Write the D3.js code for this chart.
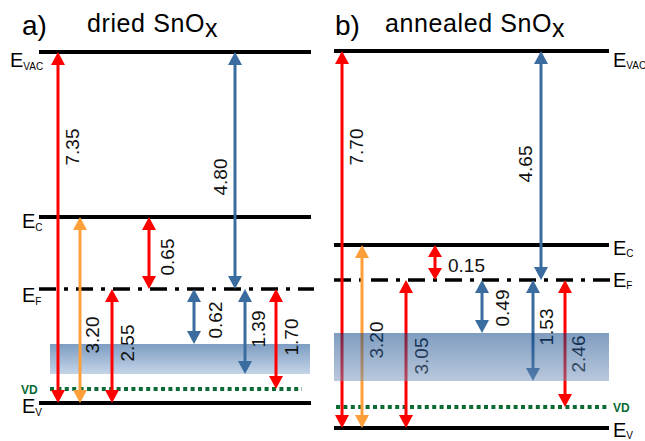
<!DOCTYPE html>
<html>
<head>
<meta charset="utf-8">
<script src="https://cdn.jsdelivr.net/npm/d3@7"></script>
<style>
  body { margin: 0; background: white; }
  text { font-family: "Liberation Sans", Arial, sans-serif; }
</style>
</head>
<body>
<div id="chart"></div>
<script>
// energy levels (eV above valence band), same order in both panels
var levels   = ["EV", "VD", "bandBottom", "bandTop", "EF", "EC", "EVAC"];
var energyA  = [0, 0.85, 1.16, 1.93, 2.55, 3.20, 7.35];
var energyB  = [0, 0.59, 1.52, 2.56, 3.05, 3.20, 7.70];

// arrows: from level -> to level, value label, colour key
var arrowFrom   = ["EV", "EF", "EV", "EF", "EV", "bandTop", "bandBottom", "VD"];
var arrowTo     = ["EVAC", "EVAC", "EC", "EC", "EF", "EF", "EF", "EF"];
var arrowColor  = ["red", "blue", "orange", "red", "red", "blue", "blue", "red"];
var labelsA     = ["7.35", "4.80", "3.20", "0.65", "2.55", "0.62", "1.39", "1.70"];
var labelsB     = ["7.70", "4.65", "3.20", "0.15", "3.05", "0.49", "1.53", "2.46"];

var titles = ["a)", "b)"];
var materials = ["dried SnO", "annealed SnO"];
var levelNames = ["EVAC", "EC", "EF", "EV"];
var levelSubs  = ["VAC", "C", "F", "V"];

var colors = { red: "#ff0000", blue: "#3a6c9f", orange: "#ff9f3a" };

var width = 645, height = 441;

var svg = d3.select("#chart").append("svg")
  .attr("width", width)
  .attr("height", height);

// opaque band (panel a, drawn behind) and translucent band (panel b, drawn on top)
var defs = svg.append("defs");
var grad = defs.append("linearGradient")
  .attr("id", "bandGrad")
  .attr("x1", 0).attr("y1", 0).attr("x2", 0).attr("y2", 1);
grad.append("stop").attr("offset", "0%").attr("stop-color", "#7d9dc2");
grad.append("stop").attr("offset", "100%").attr("stop-color", "#c4d4e7");
var grad2 = defs.append("linearGradient")
  .attr("id", "bandGrad2")
  .attr("x1", 0).attr("y1", 0).attr("x2", 0).attr("y2", 1);
grad2.append("stop").attr("offset", "0%").attr("stop-color", "#003b81");
grad2.append("stop").attr("offset", "100%").attr("stop-color", "#7391b9");

// layout of each panel (schematic, so the y scale is piecewise)
var panels = [
  {
    energy: energyA, labels: labelsA,
    yRange: [403, 389, 374, 344, 289, 217, 52],
    x0: 39, x1: 311, bandX0: 50, bandX1: 310, dotX0: 50, dotX1: 302,
    arrowX: [58, 235, 80, 149, 112, 194, 245, 276],
    labelX: [72, 220, 92, 167, 127, 215, 258, 291],
    labelY: [147, 177, 335, 257, 343, 320, 329, 337],
    horizontal: [],
    bandOnTop: false,
    titleX: 22, matX: 87,
    levelX: [10, 22, 22, 22], levelDy: [15, 11, 13, 10], subDy: 3,
    vdX: 21, vdDy: 5
  },
  {
    energy: energyB, labels: labelsB,
    yRange: [428, 407, 381, 333, 280, 245, 51],
    x0: 334, x1: 609, bandX0: 334, bandX1: 609, dotX0: 336, dotX1: 608,
    arrowX: [342, 541, 362, 435, 406, 482, 533, 565],
    labelX: [356, 525, 376, 448, 421, 502, 546, 578],
    labelY: [147, 164, 340, 265, 356, 308, 327, 354],
    horizontal: [3],
    bandOnTop: true,
    titleX: 335, matX: 385,
    levelX: [613, 613, 613, 613], levelDy: [16, 10, 7, 9], subDy: 2,
    vdX: 613, vdDy: 5
  }
];

function arrowPath(x, yA, yB, head, half) {
  // two heads, one at each end
  var dir = yB > yA ? 1 : -1;
  var tipA = "M" + x + "," + yA + "L" + (x - half) + "," + (yA + dir * head) + "L" + (x + half) + "," + (yA + dir * head) + "Z";
  var tipB = "M" + x + "," + yB + "L" + (x - half) + "," + (yB - dir * head) + "L" + (x + half) + "," + (yB - dir * head) + "Z";
  return tipA + tipB;
}

panels.forEach(function(p, pi) {
  var y = d3.scaleLinear().domain(p.energy).range(p.yRange);
  var E = function(name) { return y(p.energy[levels.indexOf(name)]); };
  var g = svg.append("g");

  // titles
  g.append("text")
    .attr("x", p.titleX).attr("y", 35)
    .style("font-size", "28px")
    .text(titles[pi]);
  var t = g.append("text")
    .attr("x", p.matX).attr("y", 32)
    .style("font-size", "25px")
    .style("letter-spacing", "0.6px")
    .text(materials[pi]);
  t.append("tspan").attr("dy", 5).text("x");

  var band = function() {
    g.append("rect")
      .attr("x", p.bandX0)
      .attr("y", E("bandTop"))
      .attr("width", p.bandX1 - p.bandX0)
      .attr("height", E("bandBottom") - E("bandTop"))
      .attr("fill", p.bandOnTop ? "url(#bandGrad2)" : "url(#bandGrad)")
      .attr("opacity", p.bandOnTop ? 0.5 : 1);
  };
  if (!p.bandOnTop) band();

  // solid levels
  ["EVAC", "EC", "EV"].forEach(function(name) {
    g.append("line")
      .attr("x1", p.x0).attr("x2", p.x1)
      .attr("y1", E(name)).attr("y2", E(name))
      .attr("stroke", "#000").attr("stroke-width", 4);
  });
  // Fermi level dash-dot
  g.append("line")
    .attr("x1", p.x0).attr("x2", p.x1 + 3)
    .attr("y1", E("EF")).attr("y2", E("EF"))
    .attr("stroke", "#000").attr("stroke-width", 3.5)
    .attr("stroke-dasharray", "17,8,4,8");
  // vacancy-defect level dotted
  g.append("line")
    .attr("x1", p.dotX0).attr("x2", p.dotX1)
    .attr("y1", E("VD")).attr("y2", E("VD"))
    .attr("stroke", "#0a6b35").attr("stroke-width", 4)
    .attr("stroke-dasharray", "4,3.4");

  // arrows
  arrowFrom.forEach(function(from, i) {
    var x = p.arrowX[i];
    var yA = E(from), yB = E(arrowTo[i]);
    var c = colors[arrowColor[i]];
    var head = Math.abs(yA - yB) < 40 ? 12 : 13, half = 7;
    var dir = yB > yA ? 1 : -1;
    g.append("line")
      .attr("x1", x).attr("x2", x)
      .attr("y1", yA + dir * head * 0.8).attr("y2", yB - dir * head * 0.8)
      .attr("stroke", c).attr("stroke-width", 3);
    g.append("path")
      .attr("d", arrowPath(x, yA, yB, head, half))
      .attr("fill", c);

    var lbl = g.append("text")
      .style("font-size", "19px")
      .attr("fill", "#111")
      .text(p.labels[i]);
    if (p.horizontal.indexOf(i) >= 0) {
      lbl.attr("x", p.labelX[i]).attr("y", p.labelY[i] + 7);
    } else {
      lbl.attr("text-anchor", "middle")
        .attr("dominant-baseline", "central")
        .attr("transform", "translate(" + p.labelX[i] + "," + p.labelY[i] + ") rotate(-90)");
    }
  });

  if (p.bandOnTop) band();

  // level labels
  levelNames.forEach(function(name, i) {
    var lt = g.append("text")
      .attr("x", p.levelX[i])
      .attr("y", E(name) + p.levelDy[i])
      .style("font-size", "20px")
      .text("E");
    lt.append("tspan")
      .attr("dy", p.subDy)
      .style("font-size", "10px")
      .text(levelSubs[i]);
  });
  g.append("text")
    .attr("x", p.vdX)
    .attr("y", E("VD") + p.vdDy)
    .style("font-size", "12px")
    .style("font-weight", "bold")
    .attr("fill", "#0a6b35")
    .text("VD");
});
</script>
</body>
</html>
